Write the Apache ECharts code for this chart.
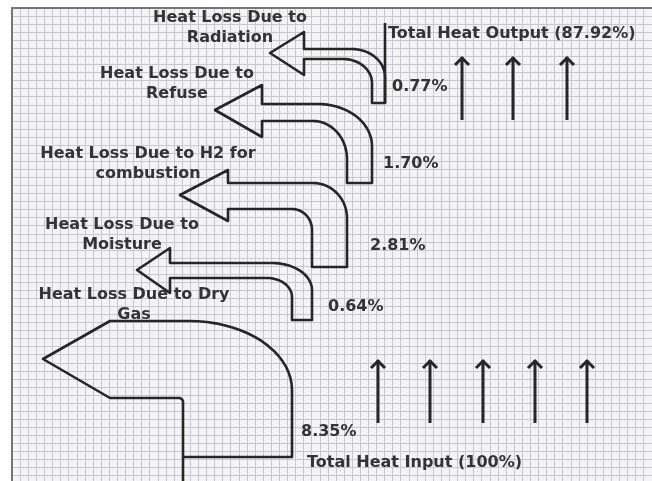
<!DOCTYPE html>
<html>
<head>
<meta charset="utf-8">
<script src="https://cdn.jsdelivr.net/npm/echarts@6/dist/echarts.min.js"></script>
<style>
  html, body { margin: 0; padding: 0; background: #fff; }
  #main { width: 652px; height: 481px; }
</style>
</head>
<body>
<div id="main"></div>
<script>
// data (bottom loss first)
const lossNames = [
  'Heat Loss Due to Dry\nGas',
  'Heat Loss Due to\nMoisture',
  'Heat Loss Due to H2 for\ncombustion',
  'Heat Loss Due to\nRefuse',
  'Heat Loss Due to\nRadiation'
];
const lossValues = [8.35, 0.64, 2.81, 1.70, 0.77];
const flowNames = ['Total Heat Input', 'Total Heat Output'];
const flowValues = [100, 87.92];

// layout of the hand drawn diagram, in page units
const stemEdges = [183, 292, 312, 347, 372, 385];
const stepY = [457, 320, 267, 183, 103];
const bandTop = [321, 263, 183, 104, 49];
const bandInner = [398, 278, 209, 121, 59];
const headX = [110, 170, 228, 262, 304];
const barbTop = [321, 248, 170, 85, 32];
const barbBot = [398, 293, 221, 137, 75];
const tipX = [43, 137, 180, 215, 270];
const tipY = [359, 270, 195, 110, 53];
const outerR = [[103, 69], [40, 27], [34, 35], [54, 42], [33, 28]];
const innerR = [[4, 4], [25, 19], [20, 21], [34, 38], [29, 24]];
const nameX = [134, 122, 148, 177, 230];
const nameY = [305, 235, 164, 84, 28];
const pctX = [301, 328, 370, 383, 392];
const pctY = [432, 307, 246, 164, 87];

const flowStemX = [183, 385];
const flowStemY = [[457, 481], [103, 23]];
const flowLabelX = [307, 388];
const flowLabelY = [463, 34];
const flowArrowX = [[378, 430, 483, 535, 587], [462, 513, 567]];
const flowArrowY = [[423, 360], [120, 57]];

const ink = '#262626';
const textInk = '#343434';
const font = 'bold 16px "DejaVu Sans"';
const cell = 8.2;

function arc(cx, cy, rx, ry, a0, a1) {
  const pts = [];
  const n = 18;
  for (let k = 0; k <= n; k++) {
    const a = (a0 + (a1 - a0) * k / n) * Math.PI / 180;
    pts.push([cx + rx * Math.cos(a), cy + ry * Math.sin(a)]);
  }
  return pts;
}

function renderLoss(params, api) {
  const i = params.dataIndex;
  const xL = stemEdges[i], xR = stemEdges[i + 1];
  const [orx, ory] = outerR[i];
  const [irx, iry] = innerR[i];
  let pts = [[xL, stepY[i]]];
  pts = pts.concat(arc(xL - irx, bandInner[i] + iry, irx, iry, 0, -90));
  pts.push([headX[i], bandInner[i]], [headX[i], barbBot[i]], [tipX[i], tipY[i]],
    [headX[i], barbTop[i]], [headX[i], bandTop[i]]);
  pts = pts.concat(arc(xR - orx, bandTop[i] + ory, orx, ory, -90, 0));
  pts.push([xR, stepY[i]]);
  const p0 = api.coord([nameX[i], nameY[i]]);
  const p1 = api.coord([pctX[i], pctY[i]]);
  return {
    type: 'group',
    children: [
      {
        type: 'polygon',
        shape: { points: pts.map(p => api.coord(p)) },
        style: { fill: 'none', stroke: ink, lineWidth: 2.6, lineJoin: 'round' }
      },
      {
        type: 'text',
        style: {
          text: lossNames[i], x: p0[0], y: p0[1], fill: textInk, font: font,
          align: 'center', verticalAlign: 'middle', lineHeight: 20
        }
      },
      {
        type: 'text',
        style: {
          text: api.value(1).toFixed(2) + '%', x: p1[0], y: p1[1], fill: textInk, font: font,
          align: 'left', verticalAlign: 'middle'
        }
      }
    ]
  };
}

function renderFlow(params, api) {
  const i = params.dataIndex;
  const a = api.coord([flowStemX[i], flowStemY[i][0]]);
  const b = api.coord([flowStemX[i], flowStemY[i][1]]);
  const lp = api.coord([flowLabelX[i], flowLabelY[i]]);
  const children = [
    { type: 'line', shape: { x1: a[0], y1: a[1], x2: b[0], y2: b[1] },
      style: { stroke: ink, lineWidth: 2.6 } },
    { type: 'text', style: {
        text: flowNames[i] + ' (' + api.value(1) + '%)', x: lp[0], y: lp[1], fill: textInk,
        font: font, align: 'left', verticalAlign: 'middle' } }
  ];
  flowArrowX[i].forEach(x => {
    const s = api.coord([x, flowArrowY[i][0]]);
    const t = api.coord([x, flowArrowY[i][1]]);
    children.push(
      { type: 'line', shape: { x1: s[0], y1: s[1], x2: t[0], y2: t[1] },
        style: { stroke: ink, lineWidth: 3 } },
      { type: 'polyline', shape: { points: [[t[0] - 7, t[1] + 8], [t[0], t[1] + 1], [t[0] + 7, t[1] + 8]] },
        style: { stroke: ink, lineWidth: 3, fill: 'none' } }
    );
  });
  return { type: 'group', children };
}

const chart = echarts.init(document.getElementById('main'));
chart.setOption({
  backgroundColor: '#fff',
  animation: false,
  grid: [
    { left: 12, top: 8, right: -8, bottom: -8, show: true, backgroundColor: '#f4f4f6', borderWidth: 0 },
    { left: 0, top: 0, right: 0, bottom: 0 }
  ],
  xAxis: [
    {
      type: 'value', gridIndex: 0, position: 'top', min: 0, max: 648 / cell, interval: 1,
      axisLine: { show: true, onZero: false, lineStyle: { color: '#76767a', width: 2 } },
      axisTick: { show: false }, axisLabel: { show: false },
      splitLine: { show: true, lineStyle: { color: '#c8c9ce', width: 1 } }
    },
    { type: 'value', gridIndex: 1, min: 0, max: 652, show: false }
  ],
  yAxis: [
    {
      type: 'value', gridIndex: 0, inverse: true, min: 0, max: 481 / cell, interval: 1,
      axisLine: { show: true, onZero: false, lineStyle: { color: '#76767a', width: 2 } },
      axisTick: { show: false }, axisLabel: { show: false },
      splitLine: { show: true, lineStyle: { color: '#c8c9ce', width: 1 } }
    },
    { type: 'value', gridIndex: 1, min: 0, max: 481, inverse: true, show: false }
  ],
  series: [
    {
      type: 'custom', xAxisIndex: 1, yAxisIndex: 1, clip: false,
      renderItem: renderLoss,
      data: lossValues.map((v, i) => [i, v])
    },
    {
      type: 'custom', xAxisIndex: 1, yAxisIndex: 1, clip: false,
      renderItem: renderFlow,
      data: flowValues.map((v, i) => [i, v])
    }
  ]
});
</script>
</body>
</html>
